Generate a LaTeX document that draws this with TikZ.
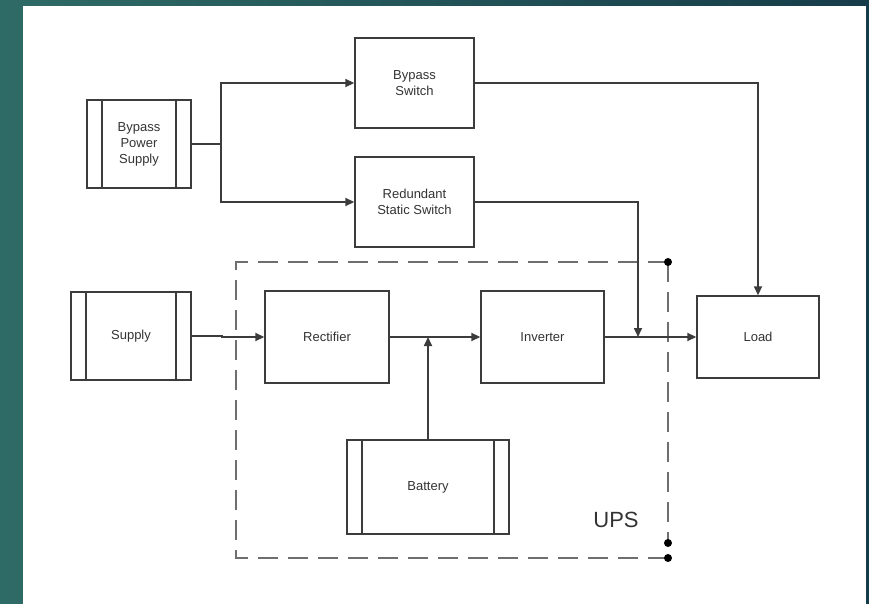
\documentclass[tikz,border=0pt]{standalone}
\usepackage{fontspec}
\setmainfont{Liberation Sans}
\usepackage{xcolor}
\usetikzlibrary{positioning}
\usetikzlibrary{calc}
\usetikzlibrary{arrows.meta}

\definecolor{bgteal}{HTML}{2F6B66}
\definecolor{bgdark}{HTML}{163C49}
\definecolor{linegray}{HTML}{3C3C3C}
\definecolor{dashgray}{HTML}{6E6E6E}
\definecolor{textgray}{HTML}{333333}

\begin{document}
\begin{tikzpicture}[x=1pt,y=-1pt,
    >={Triangle[length=9pt,width=8pt]},
    blk/.style={draw=linegray,line width=1.4pt,fill=white,inner sep=0pt,align=center,
        text=textgray,font=\fontsize{13}{16}\selectfont},
    rail/.style={blk,path picture={
        \draw[linegray,line width=1.4pt]
            ([xshift=15pt]path picture bounding box.north west) -- ([xshift=15pt]path picture bounding box.south west)
            ([xshift=-15pt]path picture bounding box.north east) -- ([xshift=-15pt]path picture bounding box.south east);}},
    wire/.style={draw=linegray,line width=1.7pt},
    upsline/.style={draw=dashgray,line width=1.7pt,dash pattern=on 20pt off 10pt},
    pin/.style={circle,fill=black,inner sep=0pt,minimum size=8pt}]

    % page
    \shade[left color=bgteal,right color=bgdark] (0,0) rectangle (869,604);
    \fill[white] (23,6) rectangle (866,604);
    \useasboundingbox (0,0) rectangle (869,604);

    % blocks
    \node[rail,minimum width=104pt,minimum height=88pt] (bps) at (139,144) {Bypass\\Power\\Supply};
    \node[blk,minimum width=119pt,minimum height=90pt] (bsw) at (414.5,83) {Bypass\\Switch};
    \node[blk,minimum width=119pt,minimum height=90pt] (rss) at (414.5,202) {Redundant\\Static Switch};
    \node[rail,minimum width=120pt,minimum height=88pt] (sup) at (131,336) {Supply};
    \node[blk,minimum width=124pt,minimum height=92pt] (rec) at (327,337) {Rectifier};
    \node[blk,minimum width=123pt,minimum height=92pt] (inv) at (542.5,337) {Inverter};
    \node[rail,minimum width=162pt,minimum height=94pt] (bat) at (428,487) {Battery};
    \node[blk,minimum width=122pt,minimum height=82pt] (load) at (758,337) {Load};

    % UPS boundary
    \coordinate (tl) at (236,262);
    \coordinate (tr) at (668,262);
    \coordinate (rm) at (668,543);
    \coordinate (br) at (668,558);
    \draw[upsline] (tr) -- (tl) -- (tl |- br) -- (br);
    \draw[upsline] (tr) -- (rm);
    \node[pin] (ptop) at (tr) {};
    \node[pin] (pmid) at (rm) {};
    \node[pin] (pbot) at (br) {};
    \node[text=textgray,font=\fontsize{22}{26}\selectfont] (ups) at (616,520) {UPS};

    % connectors
    \coordinate (jn) at (221,144);
    \coordinate (tap) at (638,337);
    \draw[wire] (bps.east) -- (jn);
    \draw[wire,->] (jn) |- (bsw.west);
    \draw[wire,->] (jn) |- (rss.west);
    \draw[wire,->] (bsw.east) -| (load.north);
    \draw[wire,->] (rss.east) -| (tap);
    \draw[wire,->] (sup.east) -- ++(30,0) |- (rec.west);
    \draw[wire,->] (rec.east) -- (inv.west);
    \draw[wire,->] (bat.north) -- (bat.north |- rec.east);
    \draw[wire,->] (inv.east) -- (load.west);

\end{tikzpicture}
\end{document}
